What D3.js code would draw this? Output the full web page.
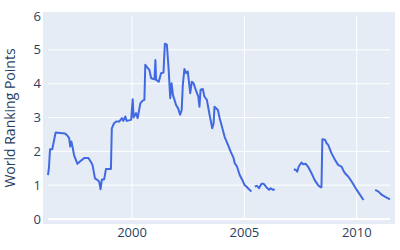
<!DOCTYPE html>
<html>
<head>
<meta charset="utf-8">
<script src="https://cdn.jsdelivr.net/npm/d3@7"></script>
<style>
  body { margin: 0; background: #fff; }
  text { font-family: "Open Sans", sans-serif; fill: #2a3f5f; }
</style>
</head>
<body>
<div id="chart"></div>
<script>
// weekly ranking points (null = no data / gap)
const years = [
  1996.26, 1996.30, 1996.35, 1996.45, 1996.60, 1997.02, 1997.12, 1997.20, 1997.25, 1997.30,
  1997.35, 1997.42, 1997.57, 1997.72, 1997.87, 1998.06, 1998.16, 1998.24, 1998.35, 1998.47,
  1998.54, 1998.60, 1998.66, 1998.76, 1998.84, 1999.06, 1999.10, 1999.20, 1999.30, 1999.43,
  1999.55, 1999.61, 1999.70, 1999.76, 1999.96, 2000.03, 2000.07, 2000.18, 2000.25, 2000.37,
  2000.47, 2000.55, 2000.59, 2000.70, 2000.77, 2000.85, 2001.00, 2001.04, 2001.07, 2001.19,
  2001.29, 2001.40, 2001.46, 2001.55, 2001.63, 2001.70, 2001.76, 2001.82, 2001.96, 2002.05,
  2002.14, 2002.21, 2002.26, 2002.33, 2002.41, 2002.48, 2002.59, 2002.66, 2002.74, 2002.86,
  2002.95, 2003.00, 2003.05, 2003.15, 2003.22, 2003.33, 2003.45, 2003.57, 2003.63, 2003.67,
  2003.82, 2003.90, 2004.02, 2004.12, 2004.27, 2004.39, 2004.52, 2004.57, 2004.67, 2004.79,
  2004.91, 2005.01, 2005.09, 2005.16, 2005.24, 2005.31, 2005.38,
  2005.46, 2005.56, 2005.65, 2005.76, 2005.86, 2005.98, 2006.10, 2006.17, 2006.28, 2006.35, 2006.80,
  2007.20, 2007.29, 2007.35, 2007.42, 2007.54, 2007.61, 2007.73, 2007.83, 2007.99, 2008.13,
  2008.28, 2008.39, 2008.43, 2008.47, 2008.59, 2008.66, 2008.73, 2008.88, 2009.03, 2009.17,
  2009.32, 2009.43, 2009.52, 2009.63, 2009.78, 2010.00, 2010.30, 2010.55,
  2010.82, 2010.97, 2011.12, 2011.31, 2011.48
];
const points = [
  1.30, 1.50, 2.06, 2.06, 2.56, 2.53, 2.47, 2.39, 2.14, 2.29,
  2.14, 1.89, 1.63, 1.72, 1.80, 1.80, 1.70, 1.60, 1.20, 1.15,
  1.10, 0.88, 1.17, 1.17, 1.48, 1.48, 2.68, 2.83, 2.88, 2.88,
  2.98, 2.90, 3.03, 2.90, 2.93, 3.54, 3.00, 3.13, 2.98, 3.42,
  3.50, 3.52, 4.56, 4.46, 4.41, 4.16, 4.13, 4.70, 4.11, 4.06,
  4.31, 4.33, 5.18, 5.15, 4.41, 3.57, 4.01, 3.67, 3.37, 3.27,
  3.08, 3.22, 3.96, 4.43, 4.31, 4.36, 3.72, 4.06, 4.01, 3.77,
  3.62, 3.32, 3.82, 3.84, 3.62, 3.52, 3.08, 2.68, 2.83, 3.32,
  3.22, 2.98, 2.68, 2.43, 2.19, 1.99, 1.80, 1.65, 1.55, 1.30,
  1.15, 1.00, 0.96, 0.91, 0.86, 0.81, null,
  0.96, 0.98, 0.91, 1.04, 1.04, 0.94, 0.86, 0.91, 0.86, 0.88, null,
  1.47, 1.45, 1.40, 1.55, 1.67, 1.62, 1.63, 1.55, 1.35, 1.15,
  1.00, 0.94, 0.94, 2.36, 2.34, 2.24, 2.19, 1.94, 1.75, 1.60,
  1.55, 1.40, 1.32, 1.25, 1.10, 0.86, 0.56, null,
  0.86, 0.81, 0.71, 0.64, 0.58
];
const xTicks = [2000, 2005, 2010];
const yTicks = [0, 1, 2, 3, 4, 5, 6];
const yTitle = "World Ranking Points";

const width = 400, height = 250;
const bg = { left: 43, right: 395, top: 12, bottom: 224 };

const svg = d3.select("#chart").append("svg")
  .attr("width", width)
  .attr("height", height);

const x = d3.scaleLinear().domain([d3.min(years), d3.max(years)]).range([48, 390]);
const y = d3.scaleLinear().domain([0, 6]).range([219, 16]);

svg.append("rect")
  .attr("x", bg.left).attr("y", bg.top)
  .attr("width", bg.right - bg.left).attr("height", bg.bottom - bg.top)
  .attr("fill", "#e5ecf6");

// vertical grid
svg.append("g").selectAll("line")
  .data(xTicks).enter().append("line")
  .attr("x1", d => x(d)).attr("x2", d => x(d))
  .attr("y1", y(6)).attr("y2", y(0))
  .attr("stroke", "#fff").attr("stroke-width", 1);

// horizontal grid (zero line a bit heavier, none at the top edge)
svg.append("g").selectAll("line")
  .data(yTicks.filter(d => d < 6)).enter().append("line")
  .attr("x1", x.range()[0]).attr("x2", x.range()[1])
  .attr("y1", d => y(d)).attr("y2", d => y(d))
  .attr("stroke", "#fff").attr("stroke-width", d => d === 0 ? 2 : 1);

// tick labels
svg.append("g").selectAll("text")
  .data(yTicks).enter().append("text")
  .attr("x", 41).attr("y", d => y(d))
  .attr("dy", "0.35em")
  .attr("text-anchor", "end")
  .style("font-size", "13px")
  .text(d => d);

svg.append("g").selectAll("text")
  .data(xTicks).enter().append("text")
  .attr("x", d => x(d)).attr("y", 237)
  .attr("text-anchor", "middle")
  .style("font-size", "13px")
  .text(d => d);

svg.append("text")
  .attr("transform", `translate(15, ${(bg.top + bg.bottom) / 2}) rotate(-90)`)
  .attr("text-anchor", "middle")
  .style("font-size", "14px")
  .text(yTitle);

const data = years.map((yr, i) => ({ yr: yr, v: points[i] }));

const line = d3.line()
  .defined(d => d.v !== null)
  .x(d => x(d.yr))
  .y(d => y(d.v));

svg.append("path")
  .datum(data)
  .attr("d", line)
  .attr("fill", "none")
  .attr("stroke", "#4169e1")
  .attr("stroke-width", 2)
  .attr("stroke-linejoin", "round");
</script>
</body>
</html>
